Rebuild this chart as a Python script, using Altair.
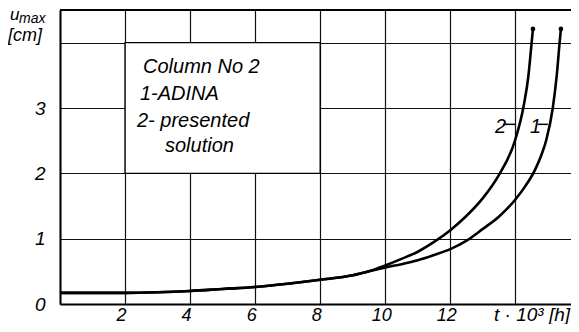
import altair as alt
import pandas as pd

# shared initial part of both curves
common_t = [0, 1, 2, 3, 4, 5, 6, 7, 8, 9, 9.5]
common_u = [0.17, 0.17, 0.17, 0.18, 0.20, 0.23, 0.26, 0.31, 0.37, 0.44, 0.50]
# curve 1 - ADINA
adina_t = [10, 10.5, 11, 11.5, 12, 12.5, 13, 13.5, 14, 14.3, 14.6, 14.8, 14.95, 15.15, 15.27, 15.36, 15.4]
adina_u = [0.56, 0.61, 0.67, 0.75, 0.84, 0.97, 1.15, 1.34, 1.60, 1.80, 2.05, 2.28, 2.51, 3.0, 3.49, 4.0, 4.21]
# curve 2 - presented solution
pres_t = [10, 10.5, 11, 11.5, 12, 12.5, 13, 13.5, 14, 14.25, 14.4, 14.5, 14.54]
pres_u = [0.59, 0.69, 0.80, 0.95, 1.13, 1.35, 1.62, 1.98, 2.52, 3.02, 3.49, 4.0, 4.21]

x_grid = list(range(0, 16))
x_labels = [2, 4, 6, 8, 10, 12]
y_grid = [0, 0.5, 1, 1.5, 2, 2.5, 3, 3.5, 4, 4.5]
y_labels = [0, 1, 2, 3]

legend_lines = ["Column No 2", "1-ADINA", "2- presented", "solution"]
curve_names = ["1", "2"]

rows = []
for name, tt, uu in [("1", adina_t, adina_u), ("2", pres_t, pres_u)]:
    for t, u in zip(common_t + tt, common_u + uu):
        rows.append({"series": name, "t": t, "u": u})
df = pd.DataFrame(rows)
ends = pd.DataFrame({"series": curve_names,
                     "t": [adina_t[-1], pres_t[-1]],
                     "u": [adina_u[-1], pres_u[-1]]})

FONT = "Liberation Sans, Arial, sans-serif"
W, H = 511, 294
xs = alt.Scale(domain=[0, 15.71], nice=False, zero=False)
ys = alt.Scale(domain=[0, 4.5], nice=False, zero=False)

lbl_x = " || ".join(f"datum.value == {v}" for v in x_labels)
lbl_y = " || ".join(f"datum.value == {v}" for v in y_labels)

x_axis = alt.Axis(values=x_grid, grid=True, ticks=False, title=None, format="d",
                  labelExpr=f"({lbl_x}) ? datum.label : ''",
                  labelFont=FONT, labelFontStyle="italic", labelFontSize=18,
                  labelColor="black", labelPadding=2, labelOffset=-4,
                  domainColor="black", domainWidth=2,
                  gridColor="#111", gridWidth=1.2, gridOpacity=1,
                  labelOverlap=False, labelFlush=False)
y_axis = alt.Axis(values=y_grid, grid=True, ticks=False, title=None, format="d",
                  labelExpr=f"({lbl_y}) ? datum.label : ''",
                  labelFont=FONT, labelFontStyle="italic", labelFontSize=19,
                  labelColor="black", labelPadding=15,
                  domainColor="black", domainWidth=2,
                  gridColor="#111", gridWidth=1.2, gridOpacity=1,
                  labelOverlap=False, labelFlush=False)

lines = alt.Chart(df).mark_line(color="black", strokeWidth=2.6, interpolate="monotone").encode(
    x=alt.X("t:Q", scale=xs, axis=x_axis),
    y=alt.Y("u:Q", scale=ys, axis=y_axis),
    detail="series:N",
)

dots = alt.Chart(ends).mark_point(filled=True, color="black", size=22, opacity=1).encode(
    x=alt.X("t:Q", scale=xs), y=alt.Y("u:Q", scale=ys)
)

box = alt.Chart(pd.DataFrame({"a": [0]})).mark_rect(fill="white", stroke="black", strokeWidth=1.4).encode(
    x=alt.datum(2, scale=xs), x2=alt.datum(8), y=alt.datum(2, scale=ys), y2=alt.datum(4)
)

top = alt.Chart(pd.DataFrame({"a": [0]})).mark_rule(color="black", strokeWidth=2).encode(
    y=alt.datum(4.5, scale=ys)
)

def txt(s, px, py, size=20, align="left", font=FONT, style="italic"):
    return alt.Chart(pd.DataFrame({"a": [0]})).mark_text(
        text=s, align=align, baseline="alphabetic", font=font, fontSize=size,
        fontStyle=style, color="black").encode(x=alt.value(px), y=alt.value(py))

legend = [
    txt(legend_lines[0], 83, 63),
    txt(legend_lines[1], 80, 90),
    txt(legend_lines[2], 77, 117),
    txt(legend_lines[3], 105, 142),
]

curve_lbls = [
    txt(curve_names[1], 435, 123, size=20),
    txt(curve_names[0], 470, 123, size=20),
]
leaders = alt.Chart(pd.DataFrame({"a": [0]})).mark_rule(color="black", strokeWidth=1.5).encode(
    x=alt.datum(13.62, scale=xs), x2=alt.datum(13.99), y=alt.datum(2.75, scale=ys)
) + alt.Chart(pd.DataFrame({"a": [0]})).mark_rule(color="black", strokeWidth=1.5).encode(
    x=alt.datum(14.69, scale=xs), x2=alt.datum(15.0), y=alt.datum(2.75, scale=ys)
)

ytitle = [
    txt("u", -50, 10, size=17),
    txt("max", -41, 13, size=14),
    txt("[cm]", -52, 31, size=18),
]
xtitle = txt("t · 10³ [h]", 434, 311, size=19)

chart = alt.layer(lines, box, top, dots, leaders, *legend, *curve_lbls, *ytitle, xtitle).properties(
    width=W, height=H,
    autosize=alt.AutoSizeParams(type="none"),
    padding={"left": 52, "top": 2, "right": 0, "bottom": 20},
).configure_view(stroke=None)

chart.save("out.html", embed_options={"renderer": "svg", "actions": False})
